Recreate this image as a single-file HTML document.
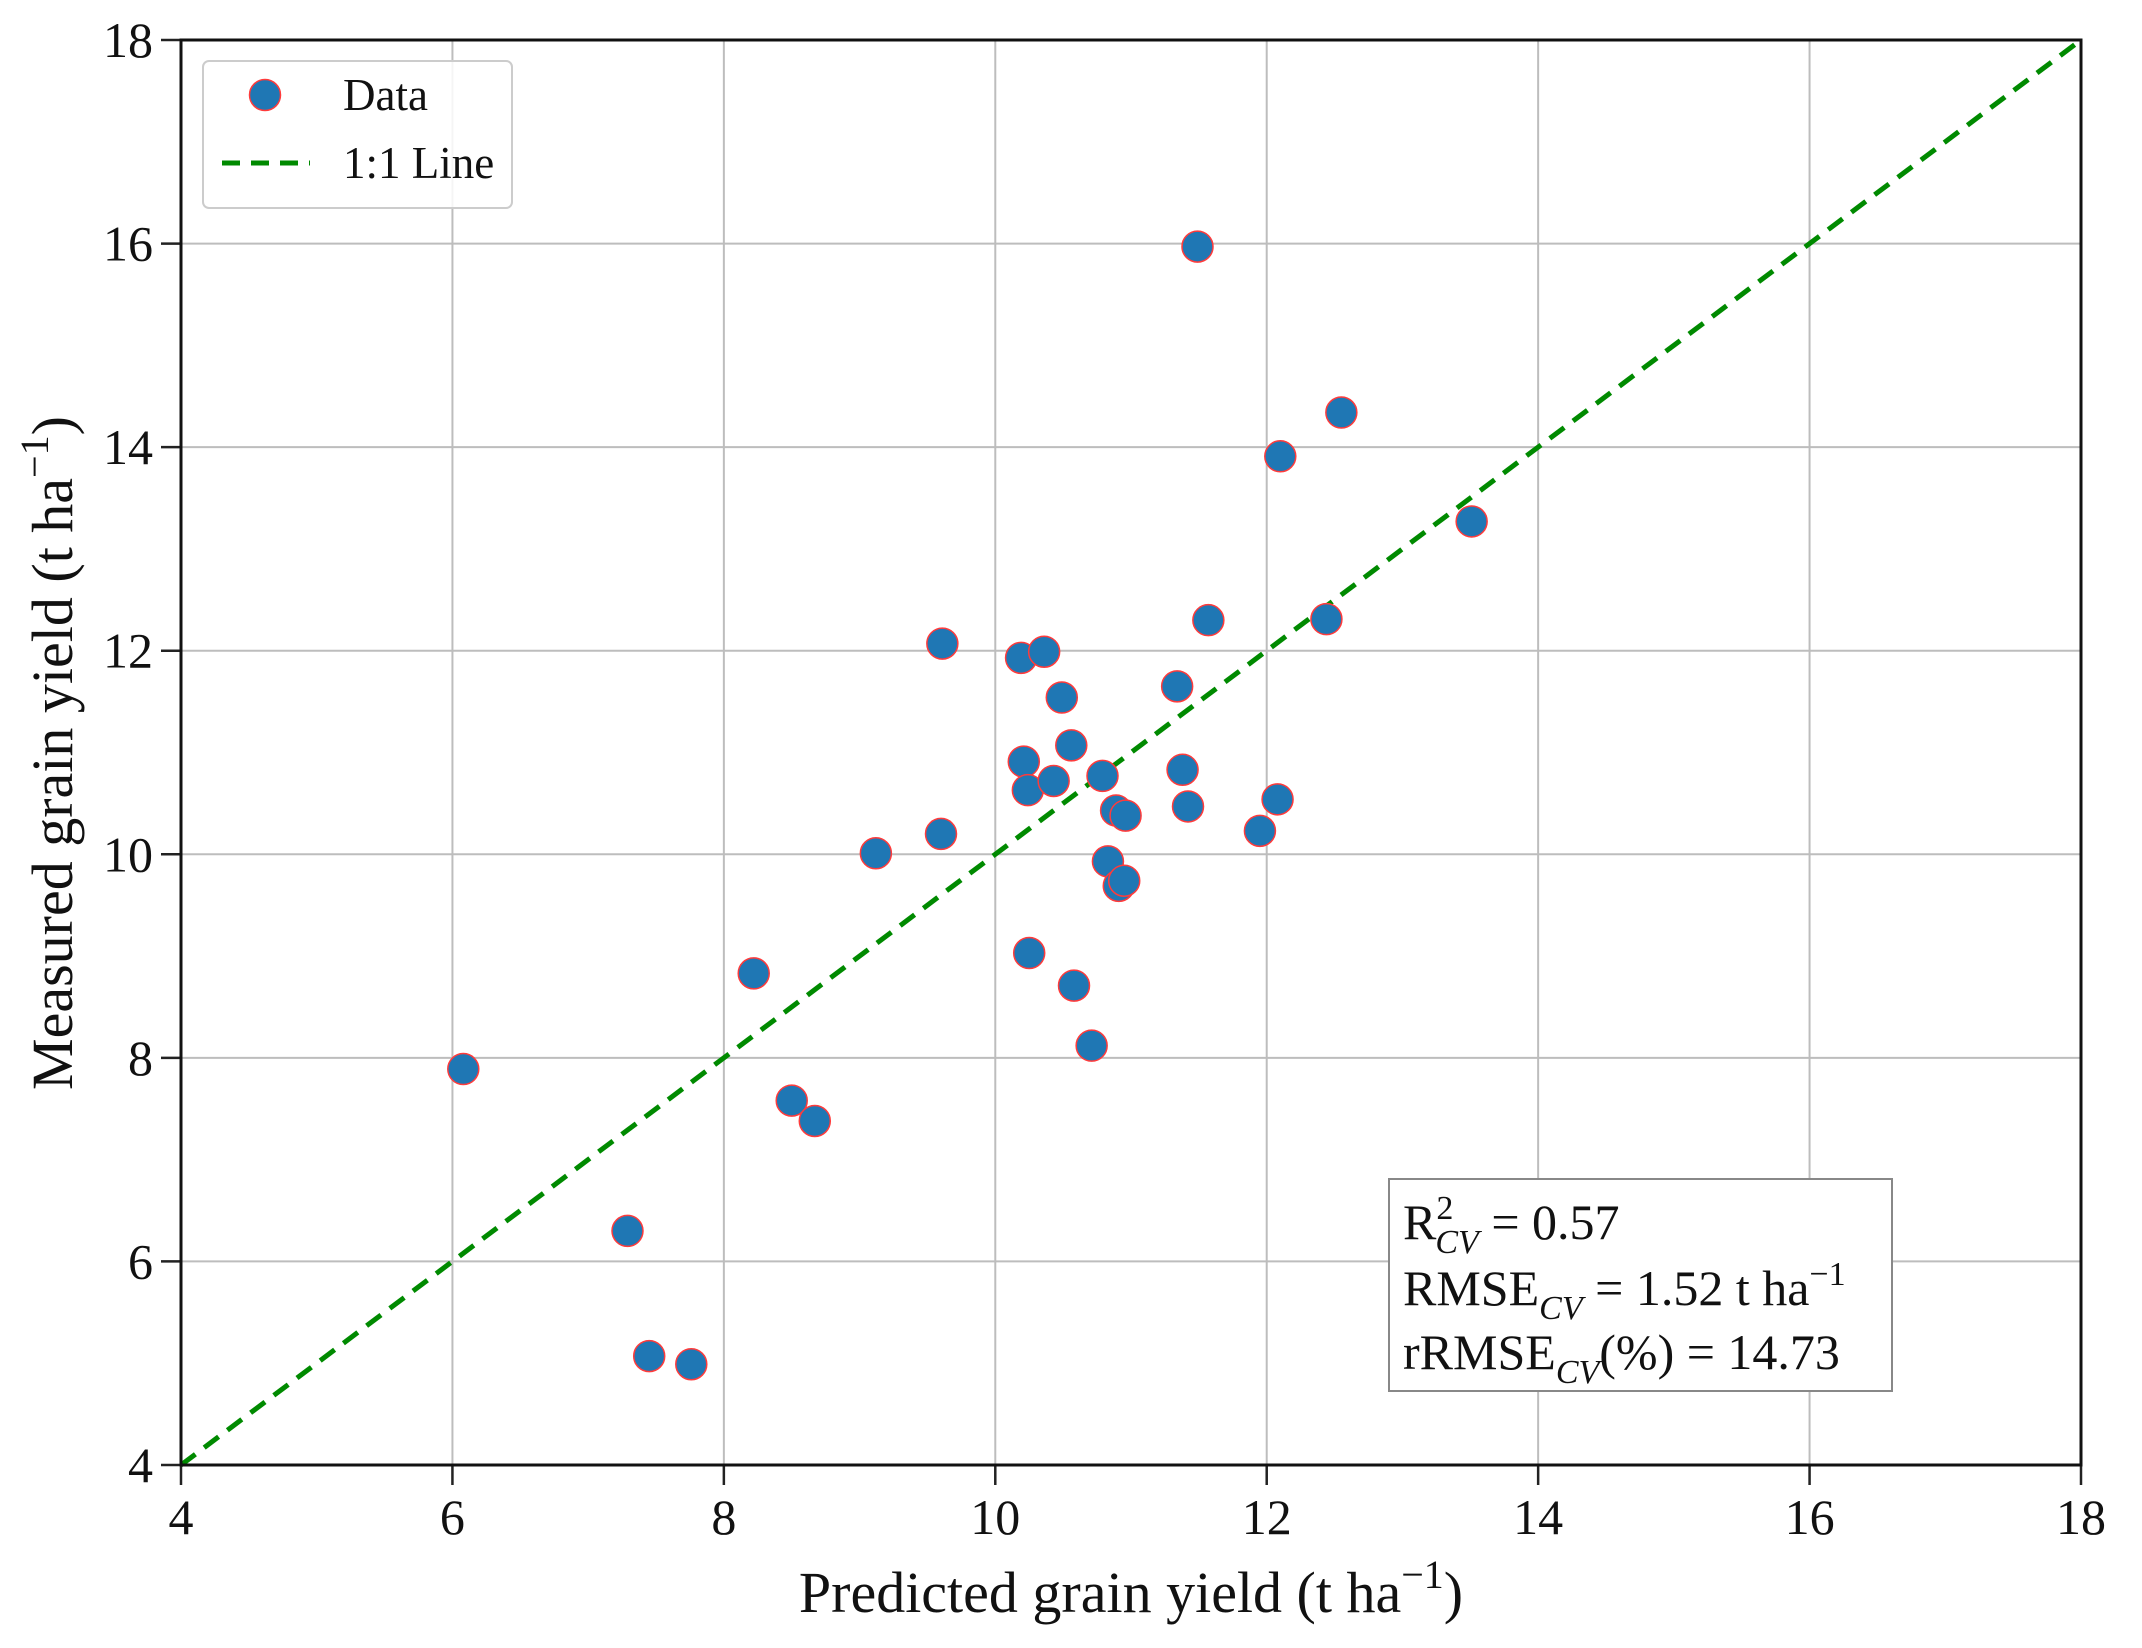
<!DOCTYPE html>
<html><head><meta charset="utf-8"><style>
body{margin:0;background:#fff}
svg{display:block;font-family:"Liberation Serif",serif}
</style></head><body>
<svg id="chart" width="2142" height="1648"></svg>
<script>
const xVals=[11.49,12.55,12.10,13.51,9.61,10.19,10.36,11.57,12.44,11.34,10.49,10.56,10.21,10.24,10.43,10.79,11.38,10.89,10.96,11.42,12.08,11.95,9.60,9.12,10.83,10.91,10.95,10.25,8.22,10.58,10.71,6.08,8.50,8.67,7.29,7.45,7.76];
const yVals=[15.97,14.34,13.91,13.27,12.07,11.93,11.99,12.30,12.31,11.65,11.54,11.07,10.91,10.63,10.72,10.77,10.83,10.43,10.38,10.47,10.54,10.23,10.20,10.01,9.93,9.69,9.74,9.03,8.83,8.71,8.12,7.89,7.58,7.38,6.30,5.07,4.99];
const xTicks=[4,6,8,10,12,14,16,18];
const yTicks=[4,6,8,10,12,14,16,18];
const L=181,R=2081,T=40,B=1465,MIN=4,MAX=18;
const sx=v=>L+(v-MIN)/(MAX-MIN)*(R-L);
const sy=v=>B-(v-MIN)/(MAX-MIN)*(B-T);
const svg=document.getElementById('chart');
const NS='http://www.w3.org/2000/svg';
function mk(t,a,p){const e=document.createElementNS(NS,t);for(const k in a)e.setAttribute(k,a[k]);(p||svg).appendChild(e);return e;}
xTicks.forEach(v=>{
 const g=mk('line',{x1:sx(v),x2:sx(v),y1:T,y2:B,stroke:'#bdbdbd','stroke-width':2});
 
 
 const tk=mk('line',{x1:sx(v),x2:sx(v),y1:B,y2:B+20,stroke:'#222','stroke-width':2.5});
 
 
 const t=mk('text',{x:sx(v),y:1534,'font-size':50,'text-anchor':'middle',fill:'#111'});t.textContent=v;
 
 
});
yTicks.forEach(v=>{
 const g=mk('line',{x1:L,x2:R,y1:sy(v),y2:sy(v),stroke:'#bdbdbd','stroke-width':2});
 
 
 const tk=mk('line',{x1:L-20,x2:L,y1:sy(v),y2:sy(v),stroke:'#222','stroke-width':2.5});
 
 
 const t=mk('text',{x:153,y:sy(v)+17,'font-size':50,'text-anchor':'end',fill:'#111'});t.textContent=v;
 
 
});
const ln=mk('line',{x1:sx(MIN),y1:sy(MIN),x2:sx(MAX),y2:sy(MAX),stroke:'#008a00','stroke-width':5,'stroke-dasharray':'18 11'});


xVals.forEach((x,i)=>{
 const c=mk('circle',{cx:sx(x),cy:sy(yVals[i]),r:15.5,fill:'#1f77b4',stroke:'#ff3b3b','stroke-width':1.5});
 
 
});
const fr=mk('rect',{x:L,y:T,width:R-L,height:B-T,fill:'none',stroke:'#111','stroke-width':3});


</script>
<svg width="2142" height="1648" style="position:absolute;left:0;top:0">
<g>
<rect x="203" y="61" width="309" height="147" rx="6" fill="#fff" fill-opacity="0.85" stroke="#ccc" stroke-width="2"/>
<circle cx="265" cy="95" r="15.5" fill="#1f77b4" stroke="#ff3b3b" stroke-width="1.5"/>
<text x="343" y="110" font-size="45" fill="#111">Data</text>
<line x1="222" y1="163" x2="310" y2="163" stroke="#008a00" stroke-width="5" stroke-dasharray="18 11"/>
<text x="343" y="178" font-size="45" fill="#111">1:1 Line</text>
</g>
<g>
<rect x="1389" y="1179" width="503" height="212" fill="#fff" stroke="#888" stroke-width="2"/>
<text x="1403" y="1239" font-size="50" fill="#111">R<tspan dy="-20" font-size="34">2</tspan><tspan dx="-18" dy="34" font-size="34" font-style="italic">CV</tspan><tspan dy="-14"> = 0.57</tspan></text>
<text x="1403" y="1305" font-size="50" fill="#111">RMSE<tspan dy="14" font-size="34" font-style="italic">CV</tspan><tspan dy="-14"> = 1.52 t ha</tspan><tspan dy="-20" font-size="34">−1</tspan></text>
<text x="1403" y="1369" font-size="50" fill="#111">rRMSE<tspan dy="14" font-size="34" font-style="italic">CV</tspan><tspan dy="-14">(%) = 14.73</tspan></text>
</g>
<text x="1131" y="1612" font-size="58" text-anchor="middle" fill="#111">Predicted grain yield (t ha<tspan dy="-24" font-size="40">−1</tspan><tspan dy="24">)</tspan></text>
<text transform="translate(72,753) rotate(-90)" font-size="58" text-anchor="middle" fill="#111">Measured grain yield (t ha<tspan dy="-24" font-size="40">−1</tspan><tspan dy="24">)</tspan></text>
</svg>
</body></html>
